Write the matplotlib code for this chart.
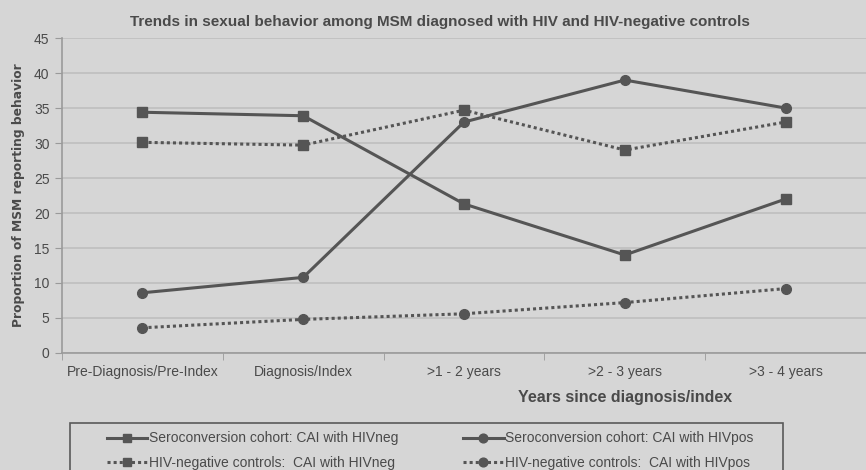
import matplotlib
matplotlib.use("Agg")
from matplotlib import pyplot as plt
from matplotlib.patches import Rectangle

# categories and values
years = ["Pre-Diagnosis/Pre-Index", "Diagnosis/Index", ">1 - 2 years", ">2 - 3 years", ">3 - 4 years"]
sero_hivneg = [34.4, 33.9, 21.3, 14.0, 22.0]
sero_hivpos = [8.6, 10.8, 33.0, 39.0, 35.0]
ctrl_hivneg = [30.1, 29.7, 34.7, 29.0, 33.0]
ctrl_hivpos = [3.6, 4.8, 5.6, 7.2, 9.2]

plt.rcParams["font.family"] = ["Liberation Sans", "DejaVu Sans"]

bg = "#d6d6d6"
ink = "#555555"
txt = "#4a4a4a"

fig = plt.figure(figsize=(8.66, 4.70), dpi=100, facecolor=bg)
ax = fig.add_axes([0.0716, 0.249, 0.9284, 0.670], facecolor=bg)

x = range(len(years))
dots = (0, (1.0, 1.0))
l1, = ax.plot(x, sero_hivneg, color=ink, lw=2.2, marker="s", ms=7,
              label="Seroconversion cohort: CAI with HIVneg")
l2, = ax.plot(x, sero_hivpos, color=ink, lw=2.2, marker="o", ms=7,
              label="Seroconversion cohort: CAI with HIVpos")
l3, = ax.plot(x, ctrl_hivneg, color=ink, lw=2.2, ls=dots, marker="s", ms=7,
              label="HIV-negative controls:  CAI with HIVneg")
l4, = ax.plot(x, ctrl_hivpos, color=ink, lw=2.2, ls=dots, marker="o", ms=7,
              label="HIV-negative controls:  CAI with HIVpos")

ax.set_xlim(-0.5, 4.5)
ax.set_ylim(0, 45)
ax.set_yticks(range(0, 46, 5))
ax.set_xticks(list(x))
ax.set_xticklabels(years)
ax.set_xticks([i + 0.5 for i in range(-1, 5)], minor=True)
ax.tick_params(axis="x", which="major", length=0, pad=9, labelsize=10, colors=txt)
ax.tick_params(axis="x", which="minor", length=5, color="#9a9a9a")
ax.tick_params(axis="y", length=5, color="#9a9a9a", labelsize=10, colors=txt, pad=4)
ax.grid(axis="y", color="#bfbfbf", lw=1.2)
ax.set_axisbelow(True)
for s in ["top", "right"]:
    ax.spines[s].set_visible(False)
for s in ["left", "bottom"]:
    ax.spines[s].set_color("#9a9a9a")
    ax.spines[s].set_linewidth(1.2)

fig.text(0.508, 0.953, "Trends in sexual behavior among MSM diagnosed with HIV and HIV-negative controls",
         ha="center", va="center", fontsize=11, fontweight="bold", color=txt)
fig.text(0.021, 0.585, "Proportion of MSM reporting behavior", rotation=90,
         ha="center", va="center", fontsize=8.8, fontweight="bold", color=txt,
         family="DejaVu Sans")
fig.text(0.722, 0.155, "Years since diagnosis/index", ha="center", va="center",
         fontsize=11.5, fontweight="bold", color=txt)

# legend frame drawn separately, it runs off the bottom edge
fig.patches.append(Rectangle((70 / 866, -0.05), 713 / 866, 0.05 + 47 / 470,
                             transform=fig.transFigure, facecolor="none",
                             edgecolor="#5a5a5a", lw=1.2))
leg = fig.legend([l1, l3, l2, l4], [l.get_label() for l in (l1, l3, l2, l4)],
                 loc="upper left", bbox_to_anchor=(107 / 866, 0.082), ncol=2,
                 frameon=False, fontsize=10, handlelength=2.9,
                 handletextpad=0.1, columnspacing=4.7, labelspacing=0.77,
                 borderpad=0, borderaxespad=0, numpoints=1, markerscale=0.9)
for t in leg.get_texts():
    t.set_color(txt)

fig.savefig("out.png", dpi=100, facecolor=bg)
